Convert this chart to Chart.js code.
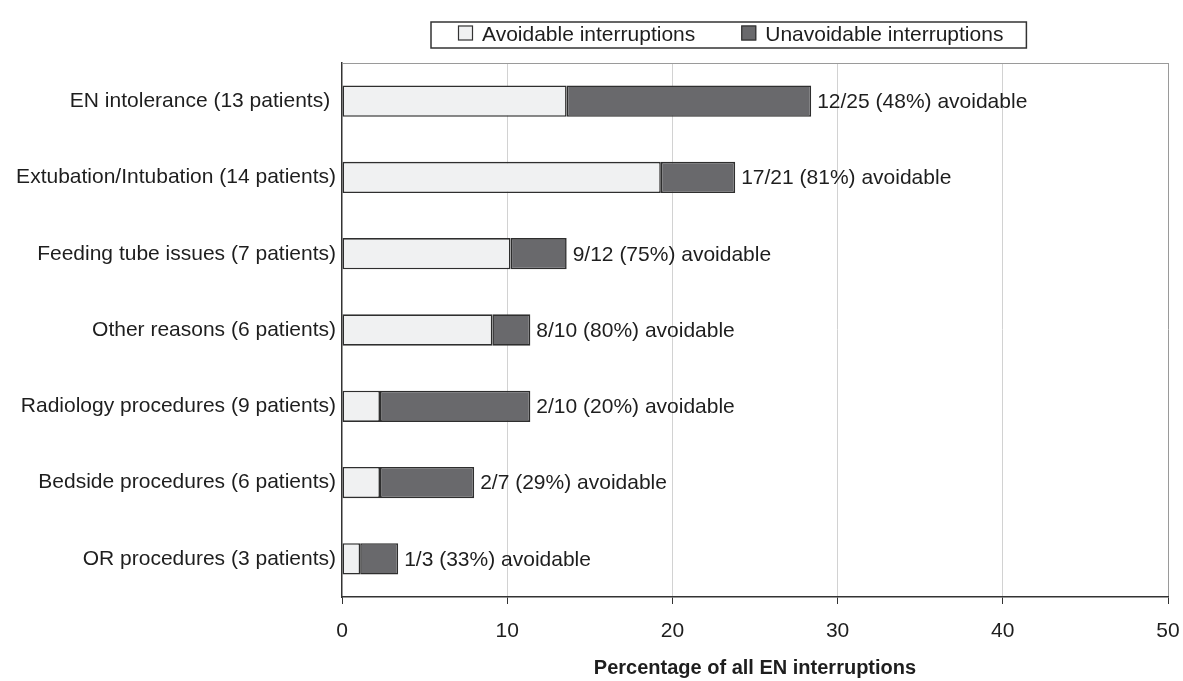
<!DOCTYPE html>
<html>
<head>
<meta charset="utf-8">
<script src="https://cdn.jsdelivr.net/npm/chart.js@4/dist/chart.umd.min.js"></script>
<style>
  html, body { margin: 0; padding: 0; background: #fff; }
  #wrap { width: 1183px; height: 681px; }
</style>
</head>
<body>
<div id="wrap"><canvas id="chart_enInterruptions" width="1183" height="681"></canvas></div>
<script>
// data (percentage of all EN interruptions)
var categories = [
  'EN intolerance (13 patients) ',
  'Extubation/Intubation (14 patients)',
  'Feeding tube issues (7 patients)',
  'Other reasons (6 patients)',
  'Radiology procedures (9 patients)',
  'Bedside procedures (6 patients)',
  'OR procedures (3 patients)'
];
var avoidable = [13.6, 19.3, 10.2, 9.1, 2.3, 2.3, 1.1];
var unavoidable = [14.8, 4.5, 3.4, 2.3, 9.1, 5.7, 2.3];
var barNotes = [
  '12/25 (48%) avoidable',
  '17/21 (81%) avoidable',
  '9/12 (75%) avoidable',
  '8/10 (80%) avoidable',
  '2/10 (20%) avoidable',
  '2/7 (29%) avoidable',
  '1/3 (33%) avoidable'
];
var xTicks = [0, 10, 20, 30, 40, 50];

var FONT = '"Liberation Sans", Arial, Helvetica, sans-serif';
var INK = '#1e1e1e';

var chart_enInterruptions = new Chart(document.getElementById('chart_enInterruptions'), {
    type: 'bar',
    data: {
        labels: categories,
        datasets: [
            {
                label: 'Avoidable interruptions',
                data: avoidable,
                backgroundColor: '#f0f1f2',
                borderColor: '#2e2e2e',
                borderWidth: 1.6,
                borderSkipped: false,
                barPercentage: 1,
                categoryPercentage: 0.41
            },
            {
                label: 'Unavoidable interruptions',
                data: unavoidable,
                backgroundColor: '#69696c',
                borderColor: '#2e2e2e',
                borderWidth: 1.6,
                borderSkipped: false,
                barPercentage: 1,
                categoryPercentage: 0.41
            }
        ]
    },
    options: {
        indexAxis: 'y',
        animation: false,
        responsive: false,
        layout: { padding: { top: 63, right: 15, left: 0, bottom: 0 } },
        plugins: {
            legend: { display: false },
            tooltip: { enabled: false },
            title: { display: false }
        },
        scales: {
            x: {
                type: 'linear',
                stacked: true,
                min: 0,
                max: 50,
                afterBuildTicks: function (scale) {
                    scale.ticks = xTicks.map(function (v) { return { value: v }; });
                },
                afterFit: function (scale) {
                    scale.height = 84;
                    scale.paddingLeft = 0;
                    scale.paddingRight = 0;
                },
                grid: {
                    color: function (c) {
                        if (c.tick && c.tick.value === 0) return 'rgba(0,0,0,0)';
                        if (c.tick && c.tick.value === 50) return '#9a9a9a';
                        return '#d2d2d2';
                    },
                    lineWidth: 1,
                    tickColor: '#333333',
                    tickLength: 7,
                    drawTicks: true
                },
                border: { display: true, color: '#333333', width: 1.5 },
                ticks: {
                    color: INK,
                    padding: 15,
                    font: { family: FONT, size: 21 }
                },
                title: {
                    display: true,
                    text: 'Percentage of all EN interruptions',
                    color: INK,
                    padding: { top: 0, bottom: 1 },
                    font: { family: FONT, size: 20, weight: 'bold' }
                }
            },
            y: {
                stacked: true,
                afterFit: function (scale) { scale.width = 342; },
                grid: { display: false, drawTicks: false },
                border: { display: true, color: '#333333', width: 1.5 },
                ticks: {
                    color: INK,
                    padding: 6,
                    font: { family: FONT, size: 21 }
                }
            }
        }
    },
    plugins: [{
        id: 'frameAndNotes',
        beforeDraw: function (chart) {
            var ctx = chart.ctx;
            ctx.save();
            ctx.fillStyle = 'white';
            ctx.fillRect(0, 0, chart.width, chart.height);
            ctx.restore();
        },
        beforeDatasetsDraw: function (chart) {
            // light top frame line of the plot
            var ctx = chart.ctx, a = chart.chartArea;
            ctx.save();
            ctx.strokeStyle = '#9a9a9a';
            ctx.lineWidth = 1;
            ctx.beginPath();
            ctx.moveTo(a.left, a.top + 0.5);
            ctx.lineTo(a.right, a.top + 0.5);
            ctx.stroke();
            ctx.restore();
        },
        afterDatasetsDraw: function (chart) {
            // "n/N (x%) avoidable" text after each bar
            var ctx = chart.ctx;
            var meta = chart.getDatasetMeta(chart.data.datasets.length - 1);
            ctx.save();
            ctx.font = '21px ' + FONT;
            ctx.fillStyle = INK;
            ctx.textAlign = 'left';
            ctx.textBaseline = 'middle';
            meta.data.forEach(function (bar, i) {
                ctx.fillText(barNotes[i], bar.x + 6, bar.y + 1);
            });
            ctx.restore();
        },
        afterDraw: function (chart) {
            // boxed legend above the plot
            var ctx = chart.ctx;
            var ds = chart.data.datasets;
            var startX = 458;
            var boxTop = 22, boxBottom = 48, cy = 34;
            var sq = 15, gapText = 9, gapItem = 46;
            ctx.save();
            ctx.font = '21px ' + FONT;
            ctx.textBaseline = 'middle';
            var x = startX;
            ds.forEach(function (d, i) {
                ctx.fillStyle = d.backgroundColor;
                ctx.fillRect(x, cy - sq / 2 - 1, sq, sq);
                ctx.strokeStyle = '#333333';
                ctx.lineWidth = 1.2;
                ctx.strokeRect(x + 0.5, cy - sq / 2 - 0.5, sq - 1, sq - 1);
                ctx.fillStyle = INK;
                ctx.fillText(d.label, x + sq + gapText, cy + 1);
                x += sq + gapText + ctx.measureText(d.label).width;
                if (i < ds.length - 1) x += gapItem;
            });
            ctx.strokeStyle = '#333333';
            ctx.lineWidth = 1.5;
            ctx.strokeRect(startX - 27, boxTop, (x + 23) - (startX - 27), boxBottom - boxTop);
            ctx.restore();
        }
    }]
});
</script>
</body>
</html>
